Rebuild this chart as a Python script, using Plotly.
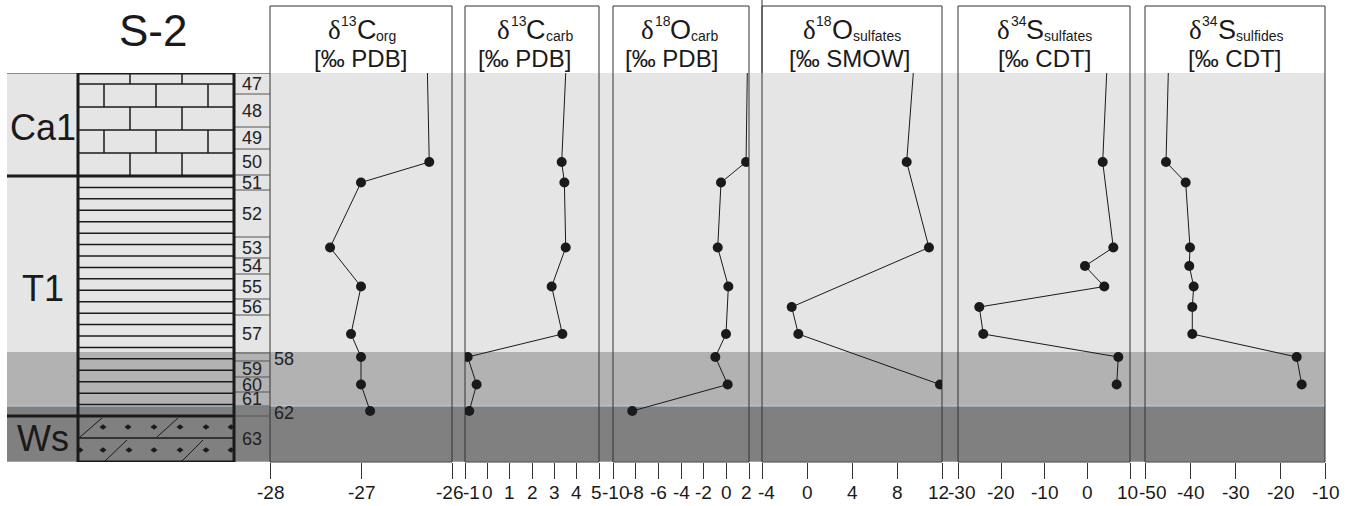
import plotly.graph_objects as go

W, H = 1348, 506

# ---------------- data ----------------
sample_ids = list(range(47, 64))
# sample-cell boundaries (relative depth units, top of section = 0)
cell_bounds = [0, 21, 54, 76, 102, 117, 164, 185, 201, 226, 242, 280, 288, 304, 319, 333, 343, 389]
formations = ["Ca1", "T1", "Ws"]
formation_bounds = [0, 103, 343, 389]
band_bounds = [0, 279, 333, 389]

c13org_samples = [50, 51, 53, 55, 57, 58, 60, 62]
c13org_values = [-26.25, -27.0, -27.34, -27.0, -27.11, -27.0, -27.0, -26.90]
c13org_top = -26.27

c13carb_samples = [50, 51, 53, 55, 57, 58, 60, 62]
c13carb_values = [3.33, 3.45, 3.51, 2.88, 3.36, -0.88, -0.48, -0.81]
c13carb_top = 3.51

o18carb_samples = [50, 51, 53, 55, 57, 58, 60, 62]
o18carb_values = [1.74, -0.47, -0.76, 0.18, -0.03, -0.97, 0.12, -8.30]
o18carb_top = 1.85

o18sulf_samples = [50, 53, 56, 57, 60]
o18sulf_values = [8.86, 10.84, -1.36, -0.77, 11.82]
o18sulf_top = 9.45

s34sulf_samples = [50, 53, 54, 55, 56, 57, 58, 60]
s34sulf_values = [3.65, 6.12, -0.47, 4.02, -25.05, -24.12, 7.28, 6.90]
s34sulf_top = 4.58

s34sulfid_samples = [50, 51, 53, 54, 55, 56, 57, 58, 60]
s34sulfid_values = [-45.33, -40.96, -40.0, -40.16, -39.18, -39.49, -39.49, -16.29, -15.18]
s34sulfid_top = -44.82

panel_mass = ["13", "13", "18", "18", "34", "34"]
panel_elem = ["C", "C", "O", "O", "S", "S"]
panel_sub = ["org", "carb", "carb", "sulfates", "sulfates", "sulfides"]
panel_units = ["[‰ PDB]", "[‰ PDB]", "[‰ PDB]", "[‰ SMOW]", "[‰ CDT]", "[‰ CDT]"]
panel_ranges = [[-28, -26], [-1, 5], [-10, 2], [-4, 12], [-30, 10], [-50, -10]]
panel_ticks = [[-28, -27, -26], [-1, 0, 1, 2, 3, 4, 5], [-10, -8, -6, -4, -2, 0, 2],
               [-4, 0, 4, 8, 12], [-30, -20, -10, 0, 10], [-50, -40, -30, -20, -10]]
panel_ticktext = [["-28", "-27", "-26"], ["-1", "0", "1", "2", "3", "4", "5"],
                  ["-10", "-8", "-6", "-4", "-2", "0", "2"], ["-4", "0", "4", "8", "12"],
                  ["-30", "-20", "-10", "0", "10"], ["-50", "-40", "-30", "-20", "-10"]]

series = [
    (c13org_samples, c13org_values, c13org_top),
    (c13carb_samples, c13carb_values, c13carb_top),
    (o18carb_samples, o18carb_values, o18carb_top),
    (o18sulf_samples, o18sulf_values, o18sulf_top),
    (s34sulf_samples, s34sulf_values, s34sulf_top),
    (s34sulfid_samples, s34sulfid_values, s34sulfid_top),
]

# ---------------- layout helpers (styling) ----------------
SANS = "Liberation Sans, Arial, sans-serif"
SERIF = "Liberation Serif, Times New Roman, serif"
band_colors = ["#e5e5e5", "#b2b2b2", "#808080"]
INK = "#1a1a1a"

panel_px = [(270, 452), (465, 599), (613, 749), (762, 942), (958, 1130), (1145, 1325)]
head1_x = [361, 534, 679, 851, 1044, 1235]
head2_x = [360, 524, 671, 850, 1044, 1234]
# horizontal nudges (px) of the first / last tick label of each panel, as in the original
edge_nudge = [(0, -3), (6, -3), (2, -3), (4, -4), (4, -3), (7, 0)]

# approximate advance widths (em) of Liberation Sans glyphs, used to compose the headers
EM = {"C": .722, "O": .778, "S": .667, "o": .556, "r": .333, "g": .556, "c": .5, "a": .556,
      "b": .556, "s": .5, "u": .556, "l": .222, "f": .278, "t": .278, "e": .556, "i": .222,
      "d": .556}
DIGIT_EM, DELTA_EM = .556, .5

def text_w(s, size):
    return sum(EM.get(ch, DIGIT_EM) for ch in s) * size

def PX(p):
    return p / W

def PY(p):
    return 1 - p / H

cell_center = {sid: (cell_bounds[i] + cell_bounds[i + 1]) / 2 for i, sid in enumerate(sample_ids)}

fig = go.Figure()
axnames = ["x", "x2", "x3", "x4", "x5", "x6"]
for i, (samples, values, top) in enumerate(series):
    depths = [cell_center[s] for s in samples]
    fig.add_trace(go.Scatter(x=[top] + values, y=[formation_bounds[0]] + depths, mode="lines",
                             line=dict(color=INK, width=1), xaxis=axnames[i], yaxis="y",
                             hoverinfo="skip", showlegend=False))
    fig.add_trace(go.Scatter(x=values, y=depths, mode="markers",
                             marker=dict(color=INK, size=10), xaxis=axnames[i], yaxis="y",
                             showlegend=False))

layout = dict(
    width=W, height=H, margin=dict(l=0, r=0, t=0, b=0, autoexpand=False),
    paper_bgcolor="white", plot_bgcolor="rgba(0,0,0,0)",
    yaxis=dict(domain=[PY(462), PY(73)], range=[formation_bounds[-1], formation_bounds[0]],
               visible=False, showgrid=False, zeroline=False, automargin=False),
    showlegend=False,
)
for i in range(6):
    key = "xaxis" if i == 0 else f"xaxis{i+1}"
    layout[key] = dict(
        domain=[PX(panel_px[i][0]), PX(panel_px[i][1])], range=panel_ranges[i], anchor="y",
        showgrid=False, zeroline=False, showline=False, ticks="outside", ticklen=16,
        tickwidth=1, tickcolor="#333", tickvals=panel_ticks[i], showticklabels=False,
        automargin=False,
    )
fig.update_layout(**layout)

shapes = []
# background bands
for i in range(3):
    shapes.append(dict(type="rect", xref="paper", yref="y", x0=PX(7), x1=PX(1325),
                       y0=band_bounds[i], y1=band_bounds[i + 1], fillcolor=band_colors[i],
                       line=dict(width=0), layer="below"))
# light blue seams
for d in [band_bounds[2], band_bounds[3]]:
    shapes.append(dict(type="line", xref="paper", yref="y", x0=PX(7), x1=PX(1325), y0=d, y1=d,
                       line=dict(color="#b9d3e6", width=1), layer="below"))
# panel frames
for i, (a, b) in enumerate(panel_px):
    shapes.append(dict(type="rect", xref="paper", yref="paper", x0=PX(a), x1=PX(b),
                       y0=PY(462), y1=PY(6), line=dict(color="#333", width=1), layer="below"))
shapes.append(dict(type="line", xref="paper", yref="paper", x0=PX(762), x1=PX(762),
                   y0=PY(73), y1=1, line=dict(color="#333", width=1), layer="below"))

# top line of section
shapes.append(dict(type="line", xref="paper", yref="y", x0=PX(7), x1=PX(270), y0=0, y1=0,
                   line=dict(color="#333", width=1), layer="below"))
# sample column boundaries
for d in cell_bounds[1:-1]:
    shapes.append(dict(type="line", xref="paper", yref="y", x0=PX(234), x1=PX(270), y0=d, y1=d,
                       line=dict(color="#555", width=1), layer="below"))

# lithology: limestone bricks (Ca1)
lx0, lx1 = 78, 234
brick_rows = [0, 11, 34, 57, 80, 103]
for d in brick_rows[1:-1]:
    shapes.append(dict(type="line", xref="paper", yref="y", x0=PX(lx0), x1=PX(lx1), y0=d, y1=d,
                       line=dict(color=INK, width=1.5), layer="below"))
for r in range(len(brick_rows) - 1):
    xs = [130, 182] if r % 2 == 0 else [104, 156, 208]
    for xv in xs:
        shapes.append(dict(type="line", xref="paper", yref="y", x0=PX(xv), x1=PX(xv),
                           y0=brick_rows[r], y1=brick_rows[r + 1],
                           line=dict(color=INK, width=1.5), layer="below"))
# shale lines (T1)
n = 21
for k in range(1, n):
    d = formation_bounds[1] + k * (formation_bounds[2] - formation_bounds[1]) / n
    shapes.append(dict(type="line", xref="paper", yref="y", x0=PX(lx0), x1=PX(lx1), y0=d, y1=d,
                       line=dict(color=INK, width=1.5), layer="below"))
# Ws pattern
ws_mid = 365
shapes.append(dict(type="line", xref="paper", yref="y", x0=PX(lx0), x1=PX(lx1), y0=ws_mid, y1=ws_mid,
                   line=dict(color=INK, width=1.5), layer="below"))
for (xa, ya, xb, yb) in [(80, 364, 102, 345), (157, 364, 178, 345), (105, 388, 127, 367), (182, 388, 203, 367)]:
    shapes.append(dict(type="line", xref="paper", yref="y", x0=PX(xa), x1=PX(xb), y0=ya, y1=yb,
                       line=dict(color=INK, width=1), layer="below"))
for yc, xs in [(354, [103, 128, 154, 180, 206, 231]), (377, [80, 103, 129, 154, 180, 206, 231])]:
    for xc in xs:
        path = (f"M {PX(xc-3.5)} {yc} L {PX(xc)} {yc-2.8} L {PX(xc+3.5)} {yc} "
                f"L {PX(xc)} {yc+2.8} Z")
        shapes.append(dict(type="path", xref="paper", yref="y", path=path, fillcolor=INK,
                           line=dict(width=0), layer="below"))
# lithology frame and formation boundaries
shapes.append(dict(type="rect", xref="paper", yref="y", x0=PX(lx0), x1=PX(lx1), y0=0, y1=389,
                   line=dict(color=INK, width=3), layer="below"))
for d in formation_bounds[1:-1]:
    shapes.append(dict(type="line", xref="paper", yref="y", x0=PX(7), x1=PX(lx1), y0=d, y1=d,
                       line=dict(color=INK, width=3), layer="below"))
fig.update_layout(shapes=shapes)

ann = []
def note(text, xp, yp, size, family=SANS, xanchor="center", color=INK):
    ann.append(dict(text=text, x=PX(xp), y=PY(yp), xref="paper", yref="paper", showarrow=False,
                    font=dict(family=family, size=size, color=color), xanchor=xanchor,
                    yanchor="middle", borderpad=0))

note("S-2", 153, 31, 44)
form_label_y = [127, 288, 438]
for f, yy in zip(formations, form_label_y):
    note(f, 43, yy, 36)
for sid in sample_ids:
    outside = sid in (58, 62)
    ann.append(dict(text=str(sid), x=PX(272 if outside else 252), y=cell_center[sid] + (1.5 if outside else 0),
                    xref="paper", yref="y", showarrow=False,
                    font=dict(family=SANS, size=18, color="#222"),
                    xanchor="left" if outside else "center", yanchor="middle"))

# tick labels, placed on each panel's own x scale
for i in range(6):
    nt = len(panel_ticks[i])
    for j, (tv, tt) in enumerate(zip(panel_ticks[i], panel_ticktext[i])):
        shift = edge_nudge[i][0] if j == 0 else (edge_nudge[i][1] if j == nt - 1 else 0)
        ann.append(dict(text=tt, x=tv, y=PY(492), xref=axnames[i], yref="paper", showarrow=False,
                        xshift=shift, font=dict(family=SANS, size=19, color=INK),
                        xanchor="center", yanchor="middle", borderpad=0))

# headers: δ, superscript mass number, element, subscript phase composed side by side
BIG, SMALL = 27, 14
for i in range(6):
    pieces = [("δ", SERIF, BIG, DELTA_EM * BIG, 30),
              (panel_mass[i], SANS, SMALL, text_w(panel_mass[i], SMALL), 21),
              (panel_elem[i], SANS, BIG, text_w(panel_elem[i], BIG), 30),
              (panel_sub[i], SANS, SMALL, text_w(panel_sub[i], SMALL), 35.5)]
    total = sum(p[3] for p in pieces)
    xcur = head1_x[i] - total / 2
    for txt, fam, sz, w, yy in pieces:
        note(txt, xcur, yy, sz, family=fam, xanchor="left")
        xcur += w
    note(panel_units[i], head2_x[i], 58, 24)
fig.update_layout(annotations=ann)

fig.write_html("out.html", config={"displayModeBar": False},
               post_script="document.body.style.margin='0';")
